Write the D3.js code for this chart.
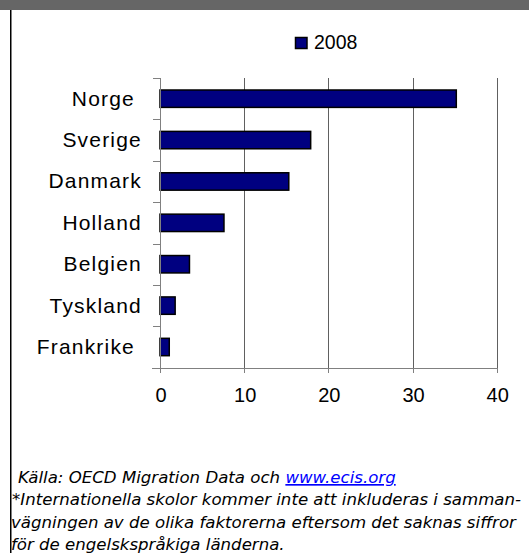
<!DOCTYPE html>
<html>
<head>
<meta http-equiv="Content-Type" content="text/html; charset=utf-8" />
<script src="https://cdn.jsdelivr.net/npm/d3@7"></script>
<title>Migration</title>
<style>
  body { margin: 0; background: #fff; }
</style>
</head>
<body>
<svg width="529" height="553" id="mainsvg"></svg>
<script>
  const countries = ['Norge', 'Sverige', 'Danmark', 'Holland', 'Belgien', 'Tyskland', 'Frankrike'];
  const values2008 = [35.2, 17.9, 15.3, 7.6, 3.5, 1.8, 1.1];
  const xTicks = [0, 10, 20, 30, 40];
  const seriesName = '2008';
  const notes = [
    '*Internationella skolor kommer inte att inkluderas i samman-',
    'vägningen av de olika faktorerna eftersom det saknas siffror',
    'för de engelskspråkiga länderna.'
  ];

  let svg = d3.select('#mainsvg');
  const width = +svg.attr('width');
  const height = +svg.attr('height');

  // frame: gray band on top, black rule on the left
  svg.append('rect').attr('x', 0).attr('y', 0).attr('width', width).attr('height', 10)
    .attr('fill', '#666666');
  svg.append('line').attr('x1', 10.75).attr('x2', 10.75).attr('y1', 10).attr('y2', height)
    .attr('stroke', '#000').attr('stroke-width', 1.5);

  const x = d3.scaleLinear().domain([0, 40]).range([160, 496.7]);
  const y = d3.scaleBand().domain(countries).range([78, 367.7]).paddingInner(0.58).paddingOuter(0.29);

  // gridlines
  svg.selectAll('.grid').data(xTicks.slice(1)).join('line')
    .attr('class', 'grid')
    .attr('x1', d => Math.round(x(d)) + 0.5).attr('x2', d => Math.round(x(d)) + 0.5)
    .attr('y1', 78).attr('y2', 368)
    .attr('stroke', '#606060').attr('stroke-width', 1);

  // bars
  svg.selectAll('.bar').data(countries).join('rect')
    .attr('class', 'bar')
    .attr('x', x(0))
    .attr('y', d => y(d))
    .attr('width', (d, i) => x(values2008[i]) - x(0))
    .attr('height', y.bandwidth())
    .attr('fill', '#000080')
    .attr('stroke', '#000').attr('stroke-width', 1.5);

  // y axis with ticks between categories
  const yAxis = svg.append('g');
  yAxis.append('line').attr('x1', 160.5).attr('x2', 160.5).attr('y1', 78).attr('y2', 368)
    .attr('stroke', '#808080');
  const bounds = d3.range(countries.length + 1).map(i => 78 + i * (367.7 - 78) / countries.length);
  yAxis.selectAll('.ytick').data(bounds).join('line')
    .attr('class', 'ytick')
    .attr('x1', 153).attr('x2', 160.5)
    .attr('y1', d => Math.round(d) + 0.5).attr('y2', d => Math.round(d) + 0.5)
    .attr('stroke', '#808080');
  // Norge and Frankrike sit a little further left in the original (trailing space)
  yAxis.selectAll('.ylab').data(countries).join('text')
    .attr('class', 'ylab')
    .attr('x', d => (d === 'Norge' || d === 'Frankrike') ? 135 : 142)
    .attr('y', d => y(d) + y.bandwidth() / 2 + 7)
    .attr('text-anchor', 'end')
    .attr('font-family', 'Liberation Sans, Arial, sans-serif')
    .attr('font-size', 21)
    .attr('letter-spacing', 1.2)
    .attr('fill', '#000')
    .text(d => d);

  // x axis
  const xAxis = svg.append('g');
  xAxis.append('line').attr('x1', 152).attr('x2', 497).attr('y1', 368.5).attr('y2', 368.5)
    .attr('stroke', '#808080');
  xAxis.selectAll('.xtick').data(xTicks).join('line')
    .attr('class', 'xtick')
    .attr('x1', d => Math.round(x(d)) + 0.5).attr('x2', d => Math.round(x(d)) + 0.5)
    .attr('y1', 368).attr('y2', 373)
    .attr('stroke', '#808080');
  xAxis.selectAll('.xlab').data(xTicks).join('text')
    .attr('class', 'xlab')
    .attr('x', d => x(d) + 1).attr('y', 402)
    .attr('text-anchor', 'middle')
    .attr('font-family', 'Liberation Sans, Arial, sans-serif')
    .attr('font-size', 20)
    .attr('fill', '#000')
    .text(d => d);

  // legend
  svg.append('rect').attr('x', 295.5).attr('y', 37.5).attr('width', 11.5).attr('height', 11)
    .attr('fill', '#000080').attr('stroke', '#000').attr('stroke-width', 1.5);
  svg.append('text').attr('x', 314).attr('y', 48.5)
    .attr('font-family', 'Liberation Sans, Arial, sans-serif')
    .attr('font-size', 19.5).attr('fill', '#000')
    .text(seriesName);

  // source and notes
  const foot = svg.append('g')
    .attr('font-family', 'DejaVu Sans, Verdana, sans-serif')
    .attr('font-style', 'italic')
    .attr('font-size', 16.6)
    .attr('fill', '#000');
  const src = foot.append('text').attr('x', 18).attr('y', 483);
  src.append('tspan').text('Källa: OECD Migration Data och ');
  src.append('tspan').attr('fill', '#0000ff').attr('text-decoration', 'underline').text('www.ecis.org');
  foot.selectAll('.note').data(notes).join('text')
    .attr('class', 'note')
    .attr('x', (d, i) => i === 0 ? 12 : 11)
    .attr('y', (d, i) => 505.3 + i * 22.3)
    .text(d => d);
</script>
</body>
</html>
